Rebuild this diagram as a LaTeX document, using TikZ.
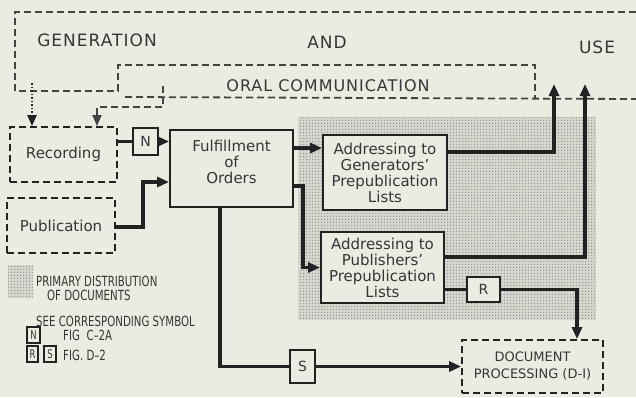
\documentclass[tikz,border=0pt]{standalone}
\usepackage{fontspec}
\usepackage{graphicx}
\setmainfont{DejaVu Sans}
\usetikzlibrary{arrows.meta,patterns.meta,calc}
\definecolor{bg}{HTML}{ECEBE2}
\definecolor{ink}{HTML}{222222}
\definecolor{txt}{HTML}{363636}
\definecolor{stip}{HTML}{D6D6CE}
\definecolor{dotc}{HTML}{9A9A94}
\tikzdeclarepattern{name=stipdots, type=uncolored,
  bounding box={(0pt,0pt) and (2.7pt,2.7pt)},
  tile size={(2.7pt,2.7pt)},
  code={\fill (0pt,0pt) rectangle (1.3pt,1.3pt);}}
\tikzset{
  solidbox/.style={draw=ink, line width=1.9pt, fill=bg, inner sep=0pt, text=txt, align=center, font=\fontsize{15}{16}\selectfont},
  dashbox/.style={solidbox, line width=1.8pt, dash pattern=on 7pt off 4pt},
  symbox/.style={draw=ink, line width=1.5pt, fill=bg, inner sep=0pt, text=txt, font=\fontsize{14}{14}\selectfont},
  conn/.style={draw=ink, line width=3.2pt},
  arr/.style={conn, -{Triangle[length=12pt,width=10pt]}},
  dline/.style={draw=ink!85, line width=1.8pt, dash pattern=on 7pt off 4pt},
  lbl/.style={text=txt, inner sep=0pt},
  leg/.style={text=txt, inner sep=0pt, anchor=west, font=\fontsize{14}{14}\selectfont},
  legbox/.style={draw=ink, line width=1.1pt, inner sep=0pt, text=txt, font=\fontsize{12}{12}\selectfont}
}
\begin{document}
\begin{tikzpicture}[x=1pt,y=-1pt]
\useasboundingbox (0,0) rectangle (636,397);
\fill[bg] (0,0) rectangle (636,397);
% stipple region
\fill[stip] (298,117) rectangle (596,320);
\fill[pattern=stipdots, pattern color=dotc] (298,117) rectangle (596,320);
% legend swatch
\fill[stip] (8,265) rectangle (33,298);
\fill[pattern=stipdots, pattern color=dotc] (8,265) rectangle (33,298);

% titles
\node[lbl, font=\fontsize{17}{17}\selectfont\addfontfeature{LetterSpace=6}] (tgen) at (97,40) {GENERATION};
\node[lbl, font=\fontsize{17}{17}\selectfont\addfontfeature{LetterSpace=6}] (tand) at (327,42) {AND};
\node[lbl, font=\fontsize{17}{17}\selectfont\addfontfeature{LetterSpace=6}] (tuse) at (597,47) {USE};
\node[lbl, font=\fontsize{16}{16}\selectfont\addfontfeature{LetterSpace=6}] (toral) at (328,86) {ORAL COMMUNICATION};

% dashed frames
\draw[dline] (636,12) -- (15,12) -- (15,91) -- (118,91) -- (118,65) -- (535,65) -- (535,99);
\draw[dline] (125,97) -- (636,99);

% nodes
\node[dashbox, minimum width=107pt, minimum height=55pt] (rec) at (63.5,154.5) {Recording};
\node[dashbox, minimum width=108pt, minimum height=55pt] (pub) at (61,225.5) {Publication};
\node[symbox, minimum width=25pt, minimum height=27pt] (n) at (145.5,141.5) {N};
\node[solidbox, minimum width=123pt, minimum height=77pt] (ful) at (231.5,168.5) {Fulfillment\\of\\Orders\\[-3pt]};
\node[solidbox, minimum width=124pt, minimum height=75pt] (gen) at (385,172.5) {Addressing to\\Generators'\\Prepublication\\Lists};
\node[solidbox, minimum width=123pt, minimum height=71pt] (pubs) at (382.5,267.5) {Addressing to\\Publishers'\\Prepublication\\Lists};
\node[symbox, minimum width=33pt, minimum height=25pt] (r) at (483.5,289.5) {R};
\node[symbox, minimum width=25pt, minimum height=33pt] (s) at (302.5,366.5) {S};
\node[dashbox, minimum width=141pt, minimum height=53pt, font=\fontsize{13}{17}\selectfont] (dp) at (532.5,366.5) {DOCUMENT\\PROCESSING (D-I)};

% coordinates
\coordinate (jp) at (143,200);
\coordinate (jq) at (303,230);
\coordinate (up1) at (554,84);
\coordinate (up2) at (585,84);
\coordinate (oralA) at (163,86);
\coordinate (oralB) at (163,107);
\coordinate (dotA) at (32,83);
\coordinate (pubout) at ($(pub.east)+(0,1.5)$);
\coordinate (fulin) at ($(ful.west)+(0,13.5)$);
\coordinate (fg) at ($(ful.east)+(0,-20.5)$);
\coordinate (fp) at ($(ful.east)+(0,17.5)$);
\coordinate (gout) at ($(gen.east)+(0,-20.5)$);
\coordinate (pout) at ($(pubs.east)+(0,-10.5)$);
\coordinate (dpin) at ($(dp.north)+(44.5,0)$);
\coordinate (fs) at ($(ful.south)+(-11.5,0)$);
\coordinate (recin1) at ($(rec.north)+(33.5,0)$);
\coordinate (recin2) at ($(rec.north)+(-31.5,0)$);

% connectors
\draw[conn] (rec.east |- n.west) -- (n.west);
\draw[arr] (n.east) -- (n.east -| ful.west);
\draw[arr] (pubout) -| (jp) |- (fulin);
\draw[arr] (fg) -- (fg -| gen.west);
\draw[arr] (fp) -| (jq) |- (pubs.west);
\draw[arr] (gout) -| (up1);
\draw[arr] (pout) -| (up2);
\draw[conn] (r.west -| pubs.east) -- (r.west);
\draw[arr] (r.east) -| (dpin);
\draw[conn] (fs) |- (s.west);
\draw[arr] (s.east) -- (s.east -| dp.west);
\draw[dline, -{Triangle[length=11pt,width=9pt]}] (oralA) -- (oralB) -| (recin1);
\draw[draw=ink, line width=2.2pt, dash pattern=on 1.5pt off 2pt, -{Triangle[length=11pt,width=9pt]}] (dotA) -- (recin2);

% legend
\node[leg] (l1) at (36,281) {\scalebox{0.73}[1]{PRIMARY DISTRIBUTION}};
\node[leg] (l2) at (47,295) {\scalebox{0.73}[1]{OF DOCUMENTS}};
\node[leg] (l3) at (36,321) {\scalebox{0.73}[1]{SEE CORRESPONDING SYMBOL}};
\node[legbox, minimum width=13pt, minimum height=16pt] (ln) at (33.5,335) {\scalebox{0.7}[1]{N}};
\node[leg] (l4) at (63,335) {\scalebox{0.73}[1]{FIG\ \ C--2A}};
\node[legbox, minimum width=11pt, minimum height=16pt] (lr) at (32.5,354) {\scalebox{0.7}[1]{R}};
\node[legbox, minimum width=12pt, minimum height=16pt] (ls) at (50,354) {\scalebox{0.7}[1]{S}};
\node[leg] (l5) at (63,355) {\scalebox{0.73}[1]{FIG.\ D--2}};
\end{tikzpicture}
\end{document}
